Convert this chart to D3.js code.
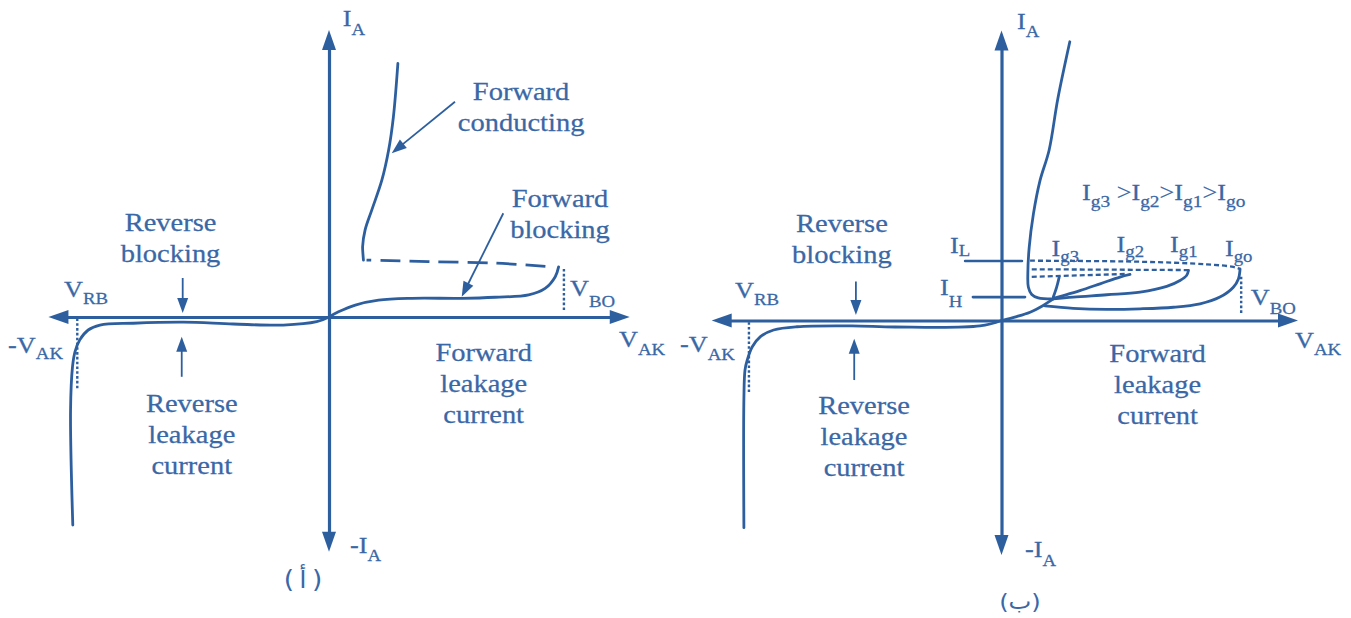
<!DOCTYPE html>
<html>
<head>
<meta charset="utf-8">
<script src="https://cdn.jsdelivr.net/npm/d3@7"></script>
<style>
  html, body { margin: 0; padding: 0; background: #ffffff; }
  svg { display: block; }
  text { white-space: pre; }
</style>
</head>
<body>
<svg id="chart" width="1351" height="618"></svg>
<script>
// ---------------------------------------------------------------
// Thyristor I-V characteristics, drawn in arbitrary units:
// V_AK along the horizontal axis, I_A along the vertical axis.
// ---------------------------------------------------------------

// Panel (a): characteristic with no gate current
const axisVA = [-100.2, 107.4];
const axisIA = [-90.3, 110.4];
const onStateA = [[24.6, 97.5], [23.0, 77.0], [21.3, 64.2], [18.9, 52.7], [15.3, 41.2],
                  [12.9, 33.5], [12.0, 27.0], [12.3, 21.9]];
const holdingA = [[13.4, 21.9], [35.5, 21.3], [59.5, 20.7], [79.5, 19.3]];
const blockingA = [[0, 0], [3.4, 2.0], [9.4, 4.6], [17.7, 6.5], [29.6, 7.2], [47.4, 7.2],
                   [59.4, 7.6], [71.3, 8.5], [77.2, 11.0], [80.8, 15.5], [82.0, 19.3]];
const reverseA = [[0, 0], [-4.4, -1.8], [-16.3, -3.1], [-34.2, -2.7], [-52.0, -2.0],
                  [-69.9, -2.4], [-81.8, -3.1], [-86.0, -5.0], [-89.0, -8.8], [-90.7, -13.3],
                  [-91.6, -19.1], [-92.3, -35.8], [-91.5, -80.0]];
const vBreakoverA = 83.9;
const vBreakoverSpanA = [2.7, 18.8];
const vReverseA = -89.9;
const vReverseSpanA = [-27.4, -0.5];
const pointersA = [
  [[45.0, 82.8], [22.4, 63.0]],    // forward conducting
  [[62.25, 39.9], [47.4, 7.8]],    // forward blocking
  [[-52.25, 15.0], [-52.25, 1.5]], // reverse blocking
  [[-52.6, -23.0], [-52.6, -7.6]]  // reverse leakage
];

// Panel (b): characteristic for several gate currents
const axisVB = [-103.5, 105.9];
const axisIB = [-90.2, 111.5];
const onStateB = [[24.4, 107.2], [20.1, 85.2], [17.0, 65.5], [13.75, 53.8], [11.4, 41.0],
                  [9.9, 28.2], [9.4, 18.0], [9.6, 12.8], [10.8, 10.0], [13.1, 8.7], [18.5, 8.3]];
const trunkB = [[18.5, 8.3], [14.9, 5.8], [10.2, 3.2], [5.4, 1.5], [0, 0]];
const gateIgoB = [[85.2, 19.8], [84.6, 16.0], [82.8, 12.8], [78.0, 9.0], [70.9, 6.4],
                  [61.4, 5.1], [49.5, 4.5], [37.6, 4.3], [25.6, 4.7], [15.5, 5.6]];
const gateIg1B = [[66.8, 19.3], [66.1, 17.3], [63.75, 15.4], [59.0, 13.1], [49.5, 10.9],
                  [37.6, 9.9], [25.6, 9.0], [18.5, 8.3]];
const gateIg2B = [[45.9, 17.7], [42.3, 16.7], [35.2, 14.1], [28.0, 11.5], [22.1, 9.6], [18.5, 8.5]];
const gateIg3B = [[20.6, 16.7], [19.7, 12.8], [18.5, 9.0]];
const latchLevelB = [[10.2, 23.0], [49.5, 22.6], [73.3, 21.6], [82.8, 20.6], [85.2, 19.8]];
const gate1LevelB = [[10.8, 19.7], [66.8, 19.4]];
const gate2LevelB = [[10.8, 16.8], [44.7, 17.9]];
const latchTickB = [[-13.0, 22.9], [7.3, 22.9]];
const holdTickB = [[-10.2, 9.0], [8.4, 9.0]];
const reverseB = [[0, 0], [-7.7, -2.1], [-38.0, -2.5], [-53.4, -2.1], [-73.0, -2.4],
                  [-81.4, -3.65], [-86.1, -6.2], [-89.0, -10.1], [-90.8, -15.2],
                  [-91.6, -19.0], [-92.0, -30.0], [-92.0, -79.7]];
const vBreakoverB = 85.6;
const vBreakoverSpanB = [2.9, 17.5];
const vReverseB = -90.2;
const vReverseSpanB = [-27.5, -0.2];
const pointersB = [
  [[-52.0, 15.0], [-52.0, 2.1]],   // reverse blocking
  [[-52.6, -22.9], [-52.6, -7.0]]  // reverse leakage
];

// ---------------------------------------------------------------
// Styling and layout
// ---------------------------------------------------------------
const BLUE = '#2d5f9f';
const INK = '#3a68a6';
const SERIF = "'Liberation Serif', 'Times New Roman', serif";
const STRETCH = 1.14;   // the lettering is set slightly wide

const svg = d3.select('#chart');

function makePanel(ox, oy) {
  return {
    x: d3.scaleLinear().domain([0, 100]).range([ox, ox + 280]),
    y: d3.scaleLinear().domain([0, 100]).range([oy, oy - 260])
  };
}
const pA = makePanel(329, 317);
const pB = makePanel(1001.5, 320.5);

// filled triangular head with its tip at b, pointing along a -> b
function head(g, a, b, len, wid) {
  const dx = b[0] - a[0], dy = b[1] - a[1], d = Math.hypot(dx, dy);
  const ux = dx / d, uy = dy / d, nx = -uy, ny = ux;
  const bx = b[0] - ux * len, by = b[1] - uy * len;
  g.append('path')
    .attr('d', `M${b[0]},${b[1]}L${bx + nx * wid / 2},${by + ny * wid / 2}L${bx - nx * wid / 2},${by - ny * wid / 2}Z`)
    .attr('fill', BLUE);
  return [bx + ux * 3, by + uy * 3];
}

function pointer(g, p, from, to) {
  const a = [p.x(from[0]), p.y(from[1])], b = [p.x(to[0]), p.y(to[1])];
  const end = head(g, a, b, 15, 11);
  g.append('line')
    .attr('x1', a[0]).attr('y1', a[1]).attr('x2', end[0]).attr('y2', end[1])
    .attr('stroke', BLUE).attr('stroke-width', 1.8);
}

function axes(g, p, vExt, iExt) {
  const HL = 20, HW = 14;
  const x0 = p.x(vExt[0]), x1 = p.x(vExt[1]);
  const y0 = p.y(iExt[0]), y1 = p.y(iExt[1]);
  // horizontal (V_AK) axis
  const xs = d3.scaleLinear().domain(vExt).range([x0 + HL - 3, x1 - HL + 3]);
  const gx = g.append('g').attr('transform', `translate(0,${p.y(0)})`)
    .call(d3.axisBottom(xs).tickValues([]).tickSizeOuter(0));
  gx.select('.domain').attr('stroke', BLUE).attr('stroke-width', 3.2);
  head(g, [x1, p.y(0)], [x0, p.y(0)], HL, HW);
  head(g, [x0, p.y(0)], [x1, p.y(0)], HL, HW);
  // vertical (I_A) axis
  const ys = d3.scaleLinear().domain(iExt).range([y0 - HL + 3, y1 + HL - 3]);
  const gy = g.append('g').attr('transform', `translate(${p.x(0)},0)`)
    .call(d3.axisLeft(ys).tickValues([]).tickSizeOuter(0));
  gy.select('.domain').attr('stroke', BLUE).attr('stroke-width', 3.2);
  head(g, [p.x(0), y0], [p.x(0), y1], HL, HW);
  head(g, [p.x(0), y1], [p.x(0), y0], HL, HW);
}

function curve(g, p, pts, opts = {}) {
  const line = d3.line()
    .x(d => p.x(d[0])).y(d => p.y(d[1]))
    .curve(opts.straight ? d3.curveLinear : d3.curveCatmullRom.alpha(0.5));
  const path = g.append('path').datum(pts).attr('d', line)
    .attr('fill', 'none').attr('stroke', BLUE)
    .attr('stroke-width', opts.width || 2.8)
    .attr('stroke-linecap', 'round');
  if (opts.dash) path.attr('stroke-dasharray', opts.dash).attr('stroke-linecap', 'butt');
  if (opts.offset) path.attr('stroke-dashoffset', opts.offset);
  return path;
}

function marker(g, p, v, span) {
  curve(g, p, [[v, span[0]], [v, span[1]]], { straight: true, width: 2.4, dash: '2.6,2.2' });
}

// text with _{...} subscripts
function label(g, x, y, str, o = {}) {
  const size = o.size || 23, sub = o.sub || 16.5, drop = o.drop == null ? 8 : o.drop;
  const t = g.append('text')
    .attr('transform', `translate(${x},${y}) scale(${o.stretch || STRETCH},1)`)
    .attr('font-family', o.family || SERIF).attr('font-size', size)
    .attr('fill', INK).attr('text-anchor', o.anchor || 'start')
    .attr('stroke', INK).attr('stroke-width', o.weight == null ? 0.25 : o.weight);
  const re = /_\{([^}]*)\}/g;
  let last = 0, cur = 0, m;
  while ((m = re.exec(str))) {
    if (m.index > last) { t.append('tspan').attr('dy', -cur).text(str.slice(last, m.index)); cur = 0; }
    t.append('tspan').attr('dy', drop - cur).attr('font-size', sub).text(m[1]);
    cur = drop; last = re.lastIndex;
  }
  if (last < str.length) t.append('tspan').attr('dy', -cur).text(str.slice(last));
  return t;
}

function block(g, p, lines, at) {
  lines.forEach((s, k) => label(g, p.x(at[0]), p.y(at[1]) + k * 30.8, s, { size: 25, anchor: 'middle' }));
}

// ---------------------------------------------------------------
// Panel (a)
// ---------------------------------------------------------------
const gA = svg.append('g');
axes(gA, pA, axisVA, axisIA);
curve(gA, pA, onStateA);
curve(gA, pA, holdingA, { dash: '20,9', offset: 15 });
curve(gA, pA, blockingA);
curve(gA, pA, reverseA);
marker(gA, pA, vBreakoverA, vBreakoverSpanA);
marker(gA, pA, vReverseA, vReverseSpanA);
pointersA.forEach(([f, t]) => pointer(gA, pA, f, t));

block(gA, pA, ['Forward', 'conducting'], [68.6, 83.5]);
block(gA, pA, ['Forward', 'blocking'], [82.5, 42.3]);
block(gA, pA, ['Reverse', 'blocking'], [-56.6, 33.1]);
block(gA, pA, ['Reverse', 'leakage', 'current'], [-49.0, -36.5]);
block(gA, pA, ['Forward', 'leakage', 'current'], [55.25, -16.9]);

[
  ['I_{A}', [4.9, 112.1], 9.5],
  ['-I_{A}', [7.5, -90.8], 8],
  ['V_{RB}', [-94.6, 7.7], 7],
  ['-V_{AK}', [-114.6, -13.8], 6],
  ['V_{BO}', [86.1, 8.1], 11],
  ['V_{AK}', [103.6, -11.5], 8]
].forEach(([s, at, drop]) => label(gA, pA.x(at[0]), pA.y(at[1]), s, { drop }));

label(gA, pA.x(-9.3), pA.y(-104.2), '(\u2009أ\u2009)', { family: "'DejaVu Sans', sans-serif", size: 24, anchor: 'middle', stretch: 1.1, weight: 0 });

// ---------------------------------------------------------------
// Panel (b)
// ---------------------------------------------------------------
const gB = svg.append('g');
axes(gB, pB, axisVB, axisIB);
curve(gB, pB, latchLevelB, { dash: '5,3', width: 2.3 });
curve(gB, pB, gate1LevelB, { straight: true, dash: '5,3', width: 2.3 });
curve(gB, pB, gate2LevelB, { straight: true, dash: '5,3', width: 2.3 });
curve(gB, pB, onStateB);
curve(gB, pB, trunkB);
curve(gB, pB, gateIgoB);
curve(gB, pB, gateIg1B);
curve(gB, pB, gateIg2B);
curve(gB, pB, gateIg3B);
curve(gB, pB, reverseB);
curve(gB, pB, latchTickB, { straight: true, width: 2.6 });
curve(gB, pB, holdTickB, { straight: true, width: 2.6 });
marker(gB, pB, vBreakoverB, vBreakoverSpanB);
marker(gB, pB, vReverseB, vReverseSpanB);
pointersB.forEach(([f, t]) => pointer(gB, pB, f, t));

block(gB, pB, ['Reverse', 'blocking'], [-57.0, 34.0]);
block(gB, pB, ['Reverse', 'leakage', 'current'], [-49.1, -36.0]);
block(gB, pB, ['Forward', 'leakage', 'current'], [55.75, -15.96]);

[
  ['I_{A}', [5.5, 112.1], 8],
  ['-I_{A}', [8.4, -90.96], 9],
  ['V_{RB}', [-95.2, 8.65], 7],
  ['-V_{AK}', [-114.8, -12.1], 8],
  ['V_{BO}', [89.0, 6.0], 9],
  ['V_{AK}', [104.8, -10.6], 7],
  ['I_{L}', [-18.4, 26.0], 3],
  ['I_{H}', [-22.0, 9.8], 12],
  ['I_{g3}', [17.9, 24.8], 6],
  ['I_{g2}', [41.1, 26.3], 5],
  ['I_{g1}', [60.2, 26.3], 5],
  ['I_{go}', [79.8, 24.8], 6]
].forEach(([s, at, drop]) => label(gB, pB.x(at[0]), pB.y(at[1]), s, { drop }));

label(gB, pB.x(28.75), pB.y(46.35), 'I_{g3} >I_{g2}>I_{g1}>I_{go}', { sub: 17, drop: 7 });

label(gB, pB.x(6.6), pB.y(-111.0), '(ب)', { family: "'DejaVu Sans', sans-serif", size: 22, anchor: 'middle', stretch: 1.1, weight: 0 });
</script>
</body>
</html>
